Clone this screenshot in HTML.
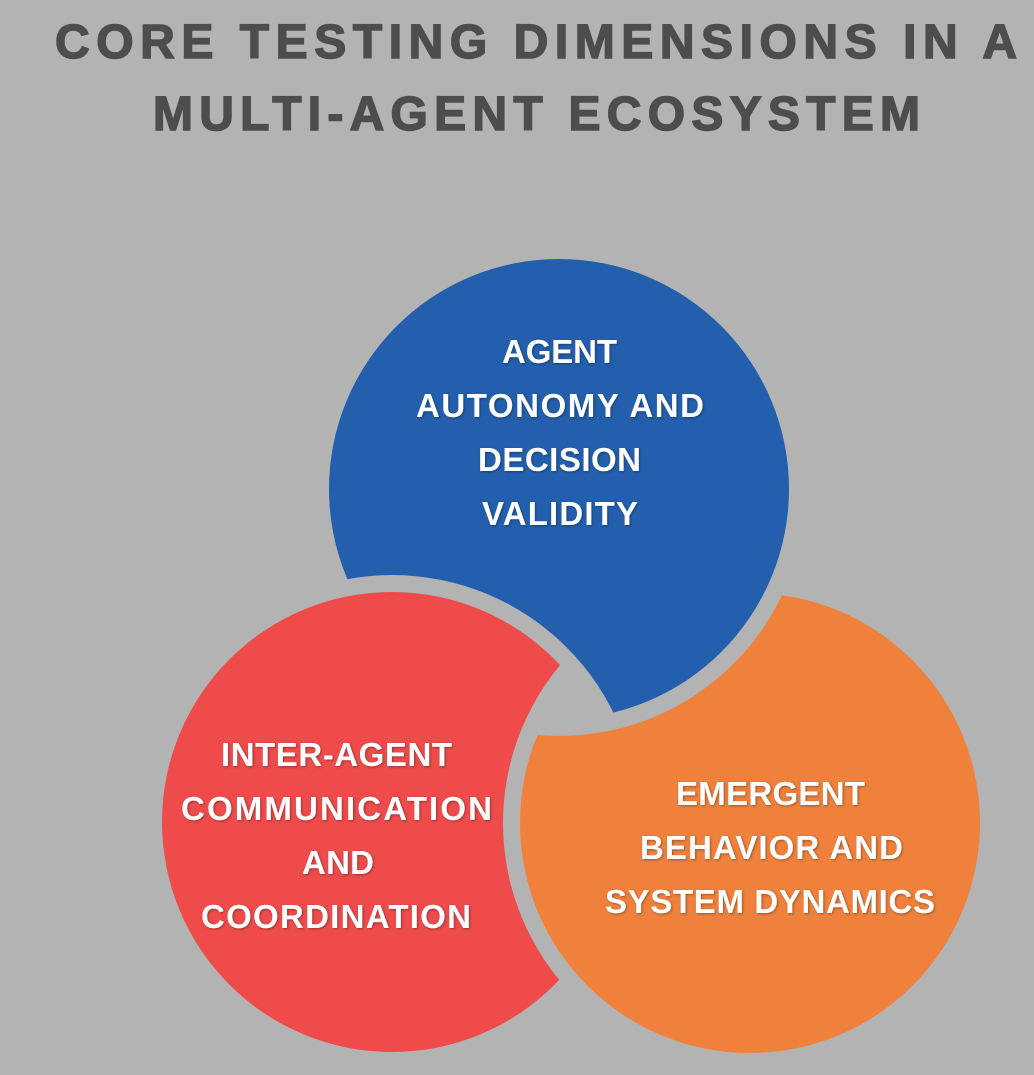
<!DOCTYPE html>
<html><head><meta charset="utf-8"><style>
html,body{margin:0;padding:0;background:#b3b3b3;}
svg{display:block}
text{font-family:"Liberation Sans",sans-serif;font-weight:bold}
.t{fill:#4d4d4d;font-size:48px;stroke:#4d4d4d;stroke-width:1.5px}
.w{fill:#fff;font-size:33px}
</style></head><body>
<svg width="1034" height="1075" viewBox="0 0 1034 1075" xmlns="http://www.w3.org/2000/svg">
<defs>
<mask id="mb"><rect width="1034" height="1075" fill="#fff"/><circle cx="392" cy="822" r="247" fill="#000"/></mask>
<mask id="mr"><rect width="1034" height="1075" fill="#fff"/><circle cx="750" cy="823" r="247" fill="#000"/></mask>
<mask id="mo"><rect width="1034" height="1075" fill="#fff"/><circle cx="559" cy="489" r="247" fill="#000"/></mask>
<filter id="sh"><feDropShadow dx="1" dy="1" stdDeviation="1.2" flood-color="#000" flood-opacity="0.35"/></filter>
</defs>
<rect width="1034" height="1075" fill="#b3b3b3"/>
<text class="t" x="55" y="58" textLength="962" lengthAdjust="spacing">CORE TESTING DIMENSIONS IN A</text>
<text class="t" x="153" y="130" textLength="767" lengthAdjust="spacing">MULTI-AGENT ECOSYSTEM</text>
<circle cx="559" cy="489" r="230" fill="#235fad" mask="url(#mb)"/>
<circle cx="392" cy="822" r="230" fill="#ef4b4b" mask="url(#mr)"/>
<circle cx="750" cy="823" r="230" fill="#f0813c" mask="url(#mo)"/>
<g class="w" filter="url(#sh)">
<text class="w" x="502" y="363" textLength="115">AGENT</text>
<text class="w" x="416" y="417" textLength="288">AUTONOMY AND</text>
<text class="w" x="478" y="471" textLength="163">DECISION</text>
<text class="w" x="482" y="525" textLength="156">VALIDITY</text>
<text class="w" x="221" y="766" textLength="231">INTER-AGENT</text>
<text class="w" x="181" y="820" textLength="311">COMMUNICATION</text>
<text class="w" x="302" y="874" textLength="72">AND</text>
<text class="w" x="201" y="928" textLength="270">COORDINATION</text>
<text class="w" x="676" y="805" textLength="189">EMERGENT</text>
<text class="w" x="640" y="859" textLength="263">BEHAVIOR AND</text>
<text class="w" x="605" y="913" textLength="330">SYSTEM DYNAMICS</text>
</g>
</svg>
</body></html>
